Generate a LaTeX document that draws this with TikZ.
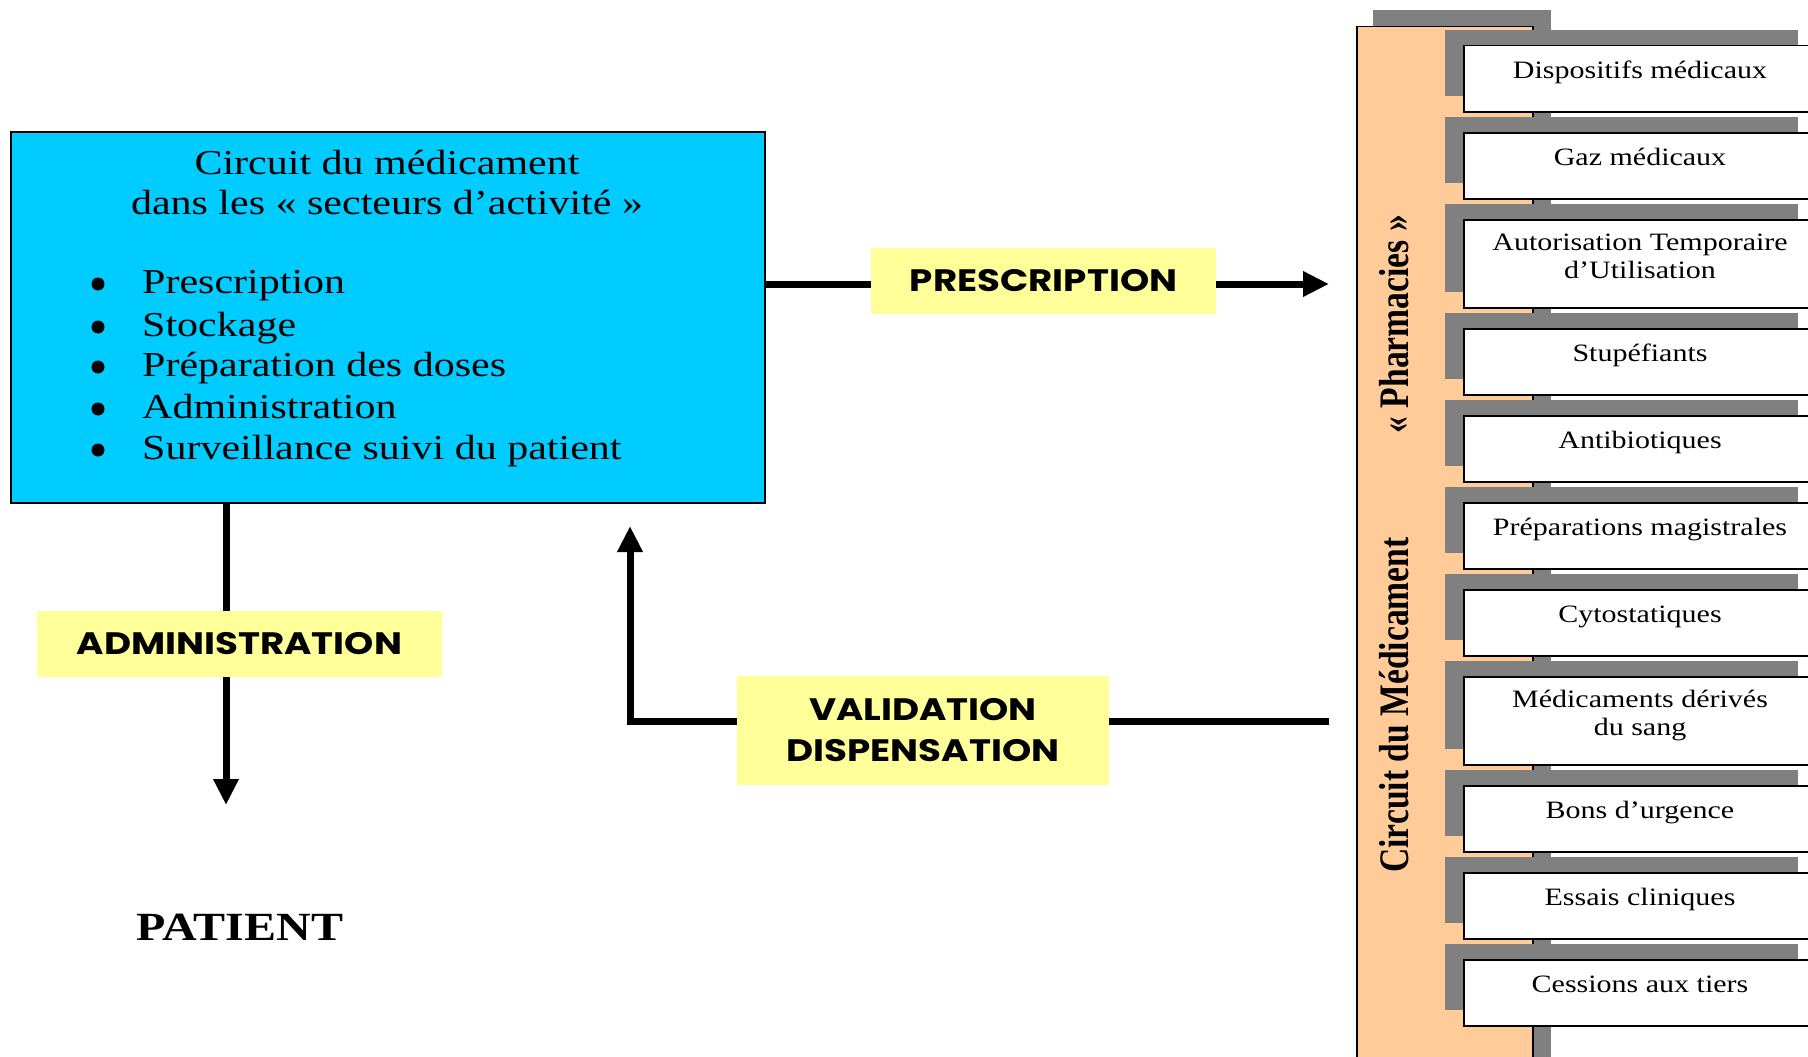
\documentclass[tikz,border=0pt]{standalone}
\usepackage{fontspec}
\setmainfont{Liberation Serif}[FakeStretch=1.2]
\newfontfamily\vertfont{Liberation Serif}[FakeStretch=0.8]
\newfontfamily\comicfont{Poppins}[FakeStretch=1.2]
\usetikzlibrary{arrows.meta}
\definecolor{bluec}{HTML}{00CCFF}
\definecolor{yellowc}{HTML}{FFFF99}
\definecolor{orangec}{HTML}{FFCC99}
\definecolor{shadowc}{HTML}{808080}
\newcommand\itemA[3]{%
  \fill[shadowc] (1445,#2-15) rectangle (1798,#2+51);
  \node[itembox, minimum height=66pt, anchor=north west] (#1) at (1463,#2) {};
  \node[itemtext] at (1640,#2+33) {#3};
}
\newcommand\itemB[4]{%
  \fill[shadowc] (1445,#2-15) rectangle (1798,#2+73);
  \node[itembox, minimum height=88pt, anchor=north west] (#1) at (1463,#2) {};
  \node[itemtext] at (1640,#2+31) {#3};
  \node[itemtext] at (1640,#2+59) {#4};
}
\begin{document}
\begin{tikzpicture}[x=1pt,y=-1pt,
  conn/.style={line width=7pt},
  arr/.style={conn,-{Triangle[length=26pt,width=24pt]}},
  tag/.style={fill=yellowc, inner sep=0pt, align=center,
    font={\comicfont\bfseries\fontsize{31}{41}\selectfont}},
  maintext/.style={anchor=base, inner sep=0pt, font={\fontsize{35}{42}\selectfont}},
  itembox/.style={draw, line width=1.5pt, fill=white, minimum width=360pt, inner sep=0pt},
  itemtext/.style={anchor=base, inner sep=0pt, font={\fontsize{25}{28}\selectfont}},
  vtext/.style={rotate=90, anchor=base, inner sep=0pt, font={\vertfont\bfseries\fontsize{42}{48}\selectfont}}
]
\useasboundingbox (0,0) rectangle (1808,1057);
\clip (0,0) rectangle (1808,1057);

% main blue box
\node[draw, line width=1.5pt, fill=bluec, minimum width=754pt, minimum height=371pt,
      anchor=north west, inner sep=0pt] (blue) at (10,131) {};
\node[maintext] (t1) at (387,174) {Circuit du médicament};
\node[maintext] (t2) at (387,214) {dans les « secteurs d’activité »};
\foreach \y/\txt [count=\i] in {293/Prescription, 336/Stockage, 376/Préparation des doses, 418/Administration, 459/Surveillance suivi du patient}{
  \fill (98,\y-9) circle[radius=6.5pt];
  \node[maintext, anchor=base west] (b\i) at (142,\y) {\txt};
}

% right panel
\fill[shadowc] (1373,10) rectangle (1551,1080);
\node[draw, line width=1.5pt, fill=orangec, minimum width=176pt, minimum height=1060pt,
      anchor=north west, inner sep=0pt] (pharm) at (1356,26) {};
\node[vtext] (vt1) at (1408,705) {Circuit du Médicament};
\node[vtext] (vt2) at (1408,324) {« Pharmacies »};

\itemA{i1}{45}{Dispositifs médicaux}
\itemA{i2}{132}{Gaz médicaux}
\itemB{i3}{219}{Autorisation Temporaire}{d’Utilisation}
\itemA{i4}{328}{Stupéfiants}
\itemA{i5}{415}{Antibiotiques}
\itemA{i6}{502}{Préparations magistrales}
\itemA{i7}{589}{Cytostatiques}
\itemB{i8}{676}{Médicaments dérivés}{du sang}
\itemA{i9}{785}{Bons d’urgence}
\itemA{i10}{872}{Essais cliniques}
\itemA{i11}{959}{Cessions aux tiers}

% labels
\node[tag, minimum width=345pt, minimum height=66pt] (presc) at (1043.5,281) {PRESCRIPTION};
\node[tag, minimum width=405pt, minimum height=66pt] (adm) at (239.5,644) {ADMINISTRATION};
\node[tag, minimum width=372pt, minimum height=109pt] (val) at (923,730.5) {VALIDATION\\DISPENSATION};

\coordinate (prtip) at (1329,284);
\coordinate (admtip) at (226,805);
\coordinate (vstart) at (1329,721);
\coordinate (vtip) at (630,526);

\draw[conn] (blue.east |- prtip) -- (presc.west |- prtip);
\draw[arr] (presc.east |- prtip) -- (prtip);
\draw[conn] (admtip |- blue.south) -- (admtip |- adm.north);
\draw[arr] (admtip |- adm.south) -- (admtip);
\draw[conn] (vstart) -- (val.east |- vstart);
\draw[arr] (val.west |- vstart) -- (vtip |- vstart) -- (vtip);

\node[anchor=base, inner sep=0pt, font={\bfseries\fontsize{40}{48}\selectfont}] (patient) at (240,940) {PATIENT};
\end{tikzpicture}
\end{document}
